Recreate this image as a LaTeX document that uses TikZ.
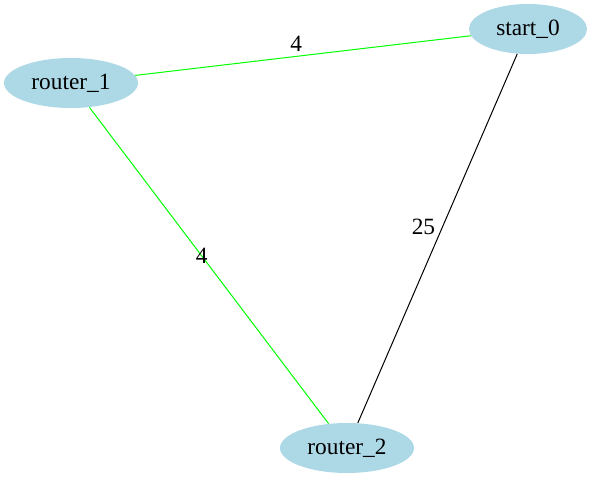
\documentclass[tikz,border=0pt]{standalone}
\usepackage{fontspec}
\setmainfont{Liberation Serif}
\usepackage{xcolor}
\usepackage{tikz}
\usetikzlibrary{shapes.geometric}
\definecolor{NodeBlue}{HTML}{ADD8E6}
\definecolor{LinkGreen}{HTML}{00FF00}

\begin{document}
\begin{tikzpicture}[
    x=0.6pt,y=-0.6pt,
    font=\fontsize{14pt}{16pt}\selectfont,
    router/.style={ellipse,fill=NodeBlue,draw=none,inner sep=0pt,
      minimum width=80.4pt,minimum height=30pt},
    link/.style={line width=0.6pt,draw=black},
    best/.style={line width=0.6pt,draw=LinkGreen},
    weight/.style={inner sep=2pt}
  ]
    \useasboundingbox (0,0) rectangle (591,478);

    % Routers of the network.
    \node[router,minimum width=70.8pt] (start) at (528,29) {start\_0};
    \node[router] (router1) at (71,83) {router\_1};
    \node[router] (router2) at (347,448) {router\_2};

    % Weighted links.
    \draw[best] (router1) -- node[weight,pos=0.48,above=0.5pt]{4} (start);
    \draw[best] (router1) -- node[weight,pos=0.47]{4} (router2);
    \draw[link] (start) -- node[weight,pos=0.47,left=2pt]{25} (router2);
  \end{tikzpicture}
\end{document}
